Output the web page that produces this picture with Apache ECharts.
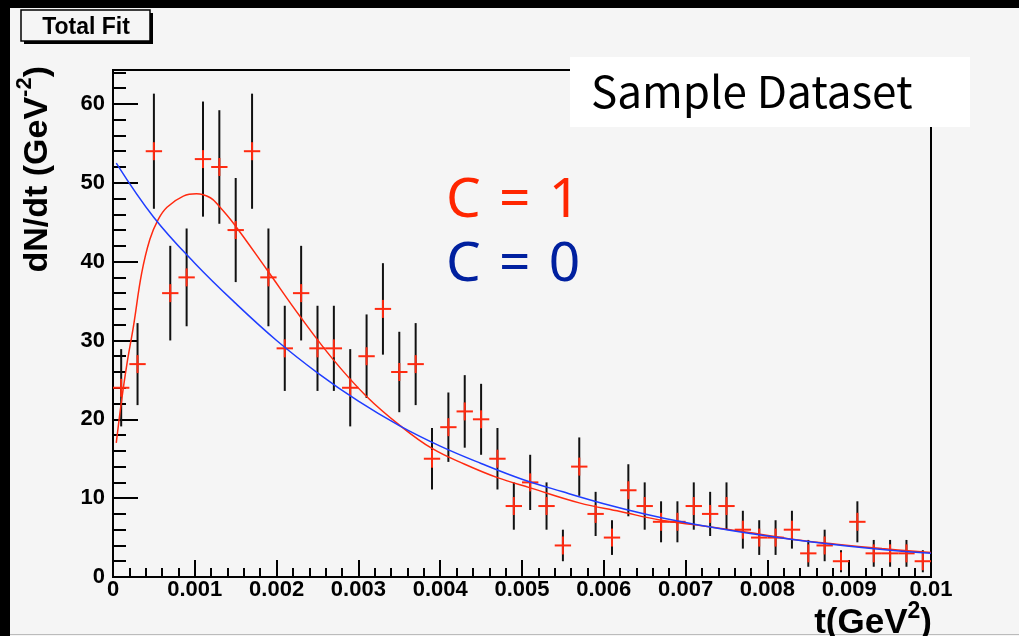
<!DOCTYPE html>
<html><head><meta charset="utf-8">
<script src="https://cdn.jsdelivr.net/npm/echarts@6/dist/echarts.min.js"></script>
<style>html,body{margin:0;padding:0;background:#f5f5f5}#c{width:1019px;height:636px}</style>
</head><body><div id="c"></div>
<script>
// ---- data ----
const binCenters = [0.0001,0.0003,0.0005,0.0007,0.0009,0.0011,0.0013,0.0015,0.0017,0.0019,
  0.0021,0.0023,0.0025,0.0027,0.0029,0.0031,0.0033,0.0035,0.0037,0.0039,
  0.0041,0.0043,0.0045,0.0047,0.0049,0.0051,0.0053,0.0055,0.0057,0.0059,
  0.0061,0.0063,0.0065,0.0067,0.0069,0.0071,0.0073,0.0075,0.0077,0.0079,
  0.0081,0.0083,0.0085,0.0087,0.0089,0.0091,0.0093,0.0095,0.0097,0.0099];
const binWidth = 0.0002;
const counts = [24,27,54,36,38,53,52,44,54,38,
  29,36,29,29,24,28,34,26,27,15,
  19,21,20,15,9,12,9,4,14,8,
  5,11,9,7,7,9,8,9,6,5,
  5,6,3,4,2,7,3,3,3,2];
const errors = [4.9,5.2,7.3,6.0,6.2,7.3,7.2,6.6,7.3,6.2,
  5.4,6.0,5.4,5.4,4.9,5.3,5.8,5.1,5.2,3.9,
  4.4,4.6,4.5,3.9,3.0,3.5,3.0,2.0,3.7,2.8,
  2.2,3.3,3.0,2.6,2.6,3.0,2.8,3.0,2.4,2.2,
  2.2,2.4,1.7,2.0,1.4,2.6,1.7,1.7,1.7,1.4];

// fit curve C = 1 (red)
const fitC1T = [0.00004,0.0001,0.00017,0.00025,0.00035,0.00045,0.00055,0.00066,0.00086,0.00102,
  0.00119,0.0013,0.00147,0.00188,0.00229,0.00269,0.0031,0.00351,0.0039,0.0043,
  0.0047,0.0051,0.0057,0.0062,0.0067,0.0072,0.0078,0.0083,0.0089,0.0094,0.01];
const fitC1V = [17,22,27,31.8,38.5,42.8,45.3,46.9,48.3,48.6,
  48.1,47.0,44.9,39.0,33.0,27.6,22.9,19.2,16.3,14.3,
  12.6,11.3,9.4,8.3,7.2,6.5,5.6,4.8,4.1,3.6,3.1];
// fit curve C = 0 (blue)
const fitC0T = [0.00004,0.0005,0.001,0.0015,0.002,0.0025,0.003,0.0035,0.004,0.0045,
  0.005,0.0055,0.006,0.0065,0.007,0.0075,0.008,0.0085,0.009,0.0095,0.01];
const fitC0V = [52.5,45.6,39.8,34.7,30.0,25.9,22.3,19.2,16.6,14.4,
  12.4,10.8,9.3,8.0,6.9,6.0,5.2,4.5,3.9,3.4,3.0];

const yTickLabels = [0,10,20,30,40,50,60];
const yMinorTicks = [2,4,6,8,12,14,16,18,22,24,26,28,32,34,36,38,42,44,46,48,52,54,56,58,62,64];

// ---- chart ----
const RED = '#ff2a10', BLUE = '#1f3dff';
const bold = {fontFamily:'Liberation Sans', fontWeight:'bold', color:'#000'};
const chart = echarts.init(document.getElementById('c'), null, {renderer:'canvas'});
const tickStyle = {color:'#000', width:2};

chart.setOption({
  backgroundColor:'#f5f5f5',
  animation:false,
  grid:{left:113, top:70, right:88, bottom:59, show:true, borderColor:'#000', borderWidth:2, backgroundColor:'transparent'},
  xAxis:{type:'value', min:0, max:0.01, interval:0.001,
    axisLine:{lineStyle:{color:'#000', width:2}},
    axisTick:{inside:true, length:17, lineStyle:tickStyle},
    minorTick:{show:true, splitNumber:5, length:9, lineStyle:tickStyle},
    splitLine:{show:false}, minorSplitLine:{show:false},
    axisLabel:Object.assign({fontSize:22, margin:2, formatter:v => v === 0 ? '0' : String(parseFloat(v.toFixed(4)))}, bold)
  },
  yAxis:[
    {type:'value', min:0, max:64.3, position:'left',
      axisLine:{lineStyle:{color:'#000', width:2}},
      axisTick:{inside:true, length:25, lineStyle:tickStyle, customValues:yTickLabels},
      splitLine:{show:false},
      axisLabel:Object.assign({fontSize:22, margin:8, customValues:yTickLabels}, bold)
    },
    {type:'value', min:0, max:64.3, position:'left', offset:0,
      axisLine:{show:false},
      axisTick:{inside:true, length:13, lineStyle:tickStyle, customValues:yMinorTicks},
      axisLabel:{show:false}, splitLine:{show:false}
    }
  ],
  series:[
    {type:'custom', name:'data', xAxisIndex:0, yAxisIndex:0, z:2,
      data: binCenters.map((t,i) => [t, counts[i], errors[i]]),
      encode:{x:0, y:1},
      renderItem:(params, api) => {
        const t = api.value(0), v = api.value(1), e = api.value(2);
        const c = api.coord([t, v]);
        const hi = api.coord([t, v + e]);
        const lo = api.coord([t, Math.max(0, v - e)]);
        const hw = api.size([binWidth, 0])[0] / 2;
        return {type:'group', children:[
          {type:'line', shape:{x1:c[0], y1:hi[1], x2:c[0], y2:lo[1]}, style:{stroke:'#111', lineWidth:2}},
          {type:'line', shape:{x1:c[0]-hw, y1:c[1], x2:c[0]+hw, y2:c[1]}, style:{stroke:RED, lineWidth:2}},
          {type:'line', shape:{x1:c[0], y1:c[1]-9, x2:c[0], y2:c[1]+9}, style:{stroke:RED, lineWidth:2}}
        ]};
      }
    },
    {type:'line', name:'C = 1', z:3, smooth:0.4, symbol:'none',
      data: fitC1T.map((t,i) => [t, fitC1V[i]]),
      lineStyle:{color:RED, width:1.5}},
    {type:'line', name:'C = 0', z:4, smooth:0.4, symbol:'none',
      data: fitC0T.map((t,i) => [t, fitC0V[i]]),
      lineStyle:{color:BLUE, width:1.5}}
  ],
  graphic:[
    {type:'rect', z:100, shape:{x:0, y:0, width:1019, height:8}, style:{fill:'#000'}},
    {type:'rect', z:100, shape:{x:0, y:0, width:10, height:636}, style:{fill:'#000'}},
    {type:'rect', z:100, shape:{x:10, y:634, width:1009, height:1}, style:{fill:'#bbbbbb'}},
    // title box
    {type:'rect', z:100, shape:{x:24, y:13, width:129, height:31}, style:{fill:'#000'}},
    {type:'rect', z:101, shape:{x:21, y:10, width:129, height:31}, style:{fill:'#f5f5f5', stroke:'#000', lineWidth:1.5}},
    {type:'text', z:102, x:86, y:28, style:{text:'Total Fit', fontFamily:'Liberation Sans', fontWeight:'bold', fontSize:23, fill:'#000', align:'center', verticalAlign:'middle'}},
    // legend-like annotations
    {type:'rect', z:100, shape:{x:570, y:57, width:400, height:70}, style:{fill:'#ffffff'}},
    {type:'text', z:101, x:591, y:91, style:{text:'Sample Dataset', fontFamily:'Noto Sans CJK JP', fontSize:44, fill:'#000', align:'left', verticalAlign:'middle'}},
    {type:'text', z:101, x:446, y:201, style:{text:'C\u2004=\u20041', fontFamily:'Noto Sans', fontSize:55, fill:'#ff2600', align:'left', verticalAlign:'middle'}},
    {type:'text', z:101, x:446, y:265, style:{text:'C\u2004=\u20040', fontFamily:'Noto Sans', fontSize:55, fill:'#00209f', align:'left', verticalAlign:'middle'}},
    // axis titles
    {type:'text', z:101, x:932, y:635, style:{
      text:'{m|t(GeV}{s|2}{m|)}', align:'right', verticalAlign:'bottom',
      rich:{m:{fontFamily:'Liberation Sans', fontWeight:'bold', fontSize:35, lineHeight:35, padding:[12,0,0,0]},
            s:{fontFamily:'Liberation Sans', fontWeight:'bold', fontSize:23, lineHeight:23, verticalAlign:'top'}}}},
    {type:'text', z:101, x:31, y:66, rotation:Math.PI/2, style:{
      text:'{m|dN/dt (GeV}{s|-2}{m|)}', align:'right', verticalAlign:'middle',
      rich:{m:{fontFamily:'Liberation Sans', fontWeight:'bold', fontSize:34, lineHeight:34, padding:[13,0,0,0]},
            s:{fontFamily:'Liberation Sans', fontWeight:'bold', fontSize:22, lineHeight:22, verticalAlign:'top'}}}}
  ]
});
</script></body></html>
